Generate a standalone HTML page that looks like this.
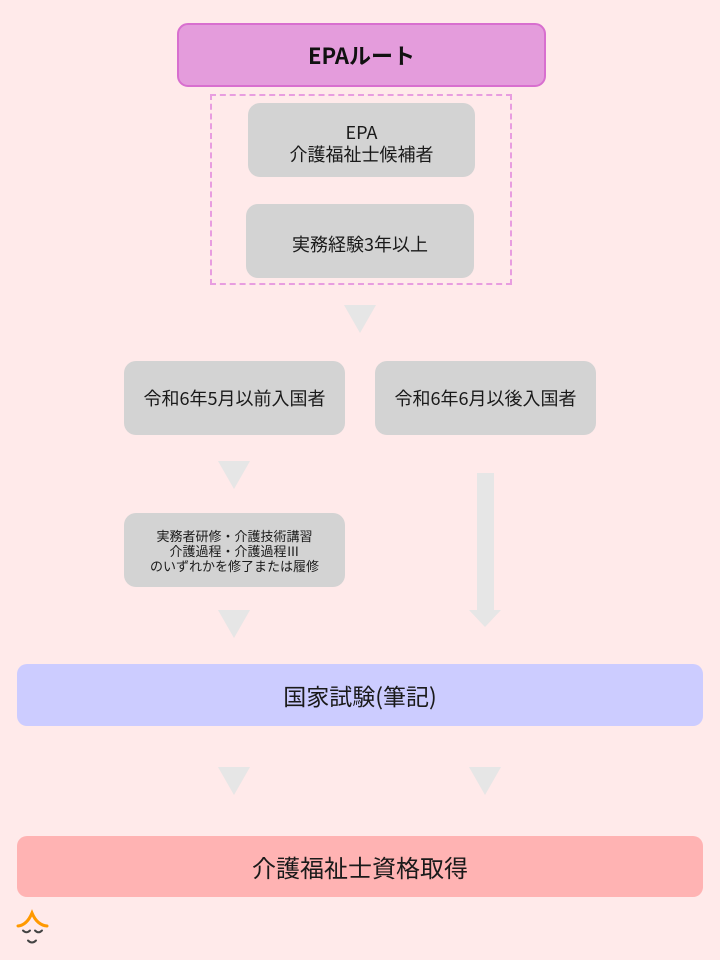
<!DOCTYPE html>
<html><head><meta charset="utf-8"><style>
*{margin:0;padding:0;box-sizing:border-box}
html,body{width:720px;height:960px;overflow:hidden;background:#ffeaea}
body{position:relative;font-family:"Liberation Sans","Noto Sans CJK JP",sans-serif;color:#1a1a1a}
.b{position:absolute;display:flex;align-items:center;justify-content:center;text-align:center;font-family:"Noto Sans CJK JP","Liberation Sans",sans-serif}
.g{background:#d3d3d3;border-radius:12px;font-size:18px;line-height:22px}
.tri{position:absolute;width:0;height:0;border-left:16px solid transparent;border-right:16px solid transparent;border-top:28px solid #e6e6e6}
</style></head><body>
<div class="b" style="left:177px;top:23px;width:369px;height:64px;background:#e49cdc;border:2px solid #d86fcf;border-radius:11px;font-size:22px;font-weight:bold;color:#111">EPAルート</div>
<div style="position:absolute;left:210px;top:94px;width:302px;height:191px;border:2px dashed #e89de0"></div>
<div class="b g" style="left:248px;top:103px;width:227px;height:74px;padding-top:6px">EPA<br>介護福祉士候補者</div>
<div class="b g" style="left:246px;top:204px;width:228px;height:74px;padding-top:6px">実務経験3年以上</div>
<div class="tri" style="left:344px;top:305px"></div>
<div class="b g" style="left:124px;top:361px;width:221px;height:74px">令和6年5月以前入国者</div>
<div class="b g" style="left:375px;top:361px;width:221px;height:74px">令和6年6月以後入国者</div>
<div class="tri" style="left:218px;top:461px"></div>
<div style="position:absolute;left:477px;top:473px;width:17px;height:139px;background:#e6e6e6"></div>
<div style="position:absolute;left:469px;top:610px;width:0;height:0;border-left:16.5px solid transparent;border-right:16.5px solid transparent;border-top:17px solid #e6e6e6"></div>
<div class="b g" style="left:124px;top:513px;width:221px;height:74px;font-size:13px;line-height:15px">実務者研修・介護技術講習<br>介護過程・介護過程Ⅲ<br>のいずれかを修了または履修</div>
<div class="tri" style="left:218px;top:610px"></div>
<div class="b" style="left:17px;top:664px;width:686px;height:62px;background:#ccccff;border-radius:10px;font-size:23px">国家試験(筆記)</div>
<div class="tri" style="left:218px;top:767px"></div>
<div class="tri" style="left:469px;top:767px"></div>
<div class="b" style="left:17px;top:836px;width:686px;height:61px;background:#ffb3b3;border-radius:10px;font-size:24px">介護福祉士資格取得</div>
<svg style="position:absolute;left:14px;top:908px" width="40" height="40" viewBox="0 0 40 40">
<path d="M4 18 Q13 17 18 5 Q23 17 33 18" fill="none" stroke="#ff9900" stroke-width="3" stroke-linecap="round"/>
<path d="M9 22.5 Q12.5 26 16 22.5" fill="none" stroke="#444" stroke-width="2" stroke-linecap="round"/>
<path d="M21 22.5 Q24.5 26 28 22.5" fill="none" stroke="#444" stroke-width="2" stroke-linecap="round"/>
<path d="M14 32.5 Q18 36.5 22 32.5" fill="none" stroke="#444" stroke-width="2" stroke-linecap="round"/>
</svg>
</body></html>
